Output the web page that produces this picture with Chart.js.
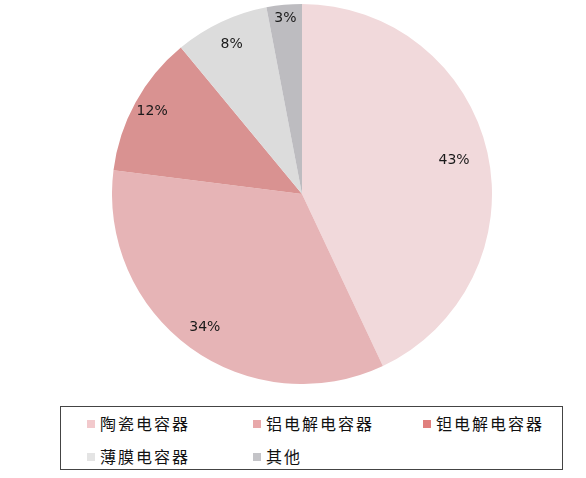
<!DOCTYPE html>
<html>
<head>
<meta charset="utf-8">
<script src="https://cdn.jsdelivr.net/npm/chart.js@4"></script>
<style>
  body { margin: 0; width: 586px; height: 478px; background: #fff; position: relative; overflow: hidden; font-family: "Noto Sans CJK SC", sans-serif; }
  #wrap { position: absolute; left: 112px; top: 4px; width: 380px; height: 380px; }
  #legend { position: absolute; left: 60px; top: 406px; width: 503px; height: 64px; border: 1px solid #444; box-sizing: border-box; }
  .item { position: absolute; font-size: 16px; color: #111; letter-spacing: 2px; line-height: 20px; }
  .item span.sw { display: inline-block; width: 8px; height: 8px; margin-right: 5px; vertical-align: 2px; }
</style>
</head>
<body>
<div id="wrap"><canvas id="pie"></canvas></div>
<div id="legend"></div>
<script>
const labels = ["陶瓷电容器", "铝电解电容器", "钽电解电容器", "薄膜电容器", "其他"];
const shares = [43, 34, 12, 8, 3];
const colors = ["#f1d9db", "#e6b4b6", "#d99291", "#dcdcdc", "#bdbcc0"];
const swatches = ["#f2c9cc", "#e8a8aa", "#e07f7d", "#e4e4e4", "#c4c4c8"];
// how far out (fraction of radius) each % label sits
const labelRadius = [0.82, 0.87, 0.9, 0.87, 0.93];

// legend laid out in columns like the original
const legendPos = [[26, 6], [192, 6], [362, 6], [26, 39], [192, 39]];
const legend = document.getElementById("legend");
labels.forEach((name, i) => {
  const div = document.createElement("div");
  div.className = "item";
  div.style.left = legendPos[i][0] + "px";
  div.style.top = legendPos[i][1] + "px";
  div.innerHTML = `<span class="sw" style="background:${swatches[i]}"></span>${name}`;
  legend.appendChild(div);
});

const pctLabels = {
  id: "pctLabels",
  afterDatasetsDraw(chart) {
    const ctx = chart.ctx;
    const meta = chart.getDatasetMeta(0);
    ctx.save();
    ctx.font = "14px 'DejaVu Sans', sans-serif";
    ctx.fillStyle = "#1a1a1a";
    ctx.textAlign = "center";
    ctx.textBaseline = "middle";
    meta.data.forEach((arc, i) => {
      const p = arc.getProps(["x", "y", "startAngle", "endAngle", "outerRadius"], true);
      const mid = (p.startAngle + p.endAngle) / 2;
      const r = p.outerRadius * labelRadius[i];
      ctx.fillText(shares[i] + "%", p.x + Math.cos(mid) * r, p.y + Math.sin(mid) * r);
    });
    ctx.restore();
  }
};

new Chart(document.getElementById("pie"), {
  type: "pie",
  data: {
    labels,
    datasets: [{
      data: shares,
      backgroundColor: colors,
      borderWidth: 0
    }]
  },
  options: {
    responsive: true,
    maintainAspectRatio: false,
    animation: false,
    layout: { padding: 0 },
    plugins: {
      legend: { display: false },
      tooltip: { enabled: false }
    }
  },
  plugins: [pctLabels]
});
</script>
</body>
</html>
